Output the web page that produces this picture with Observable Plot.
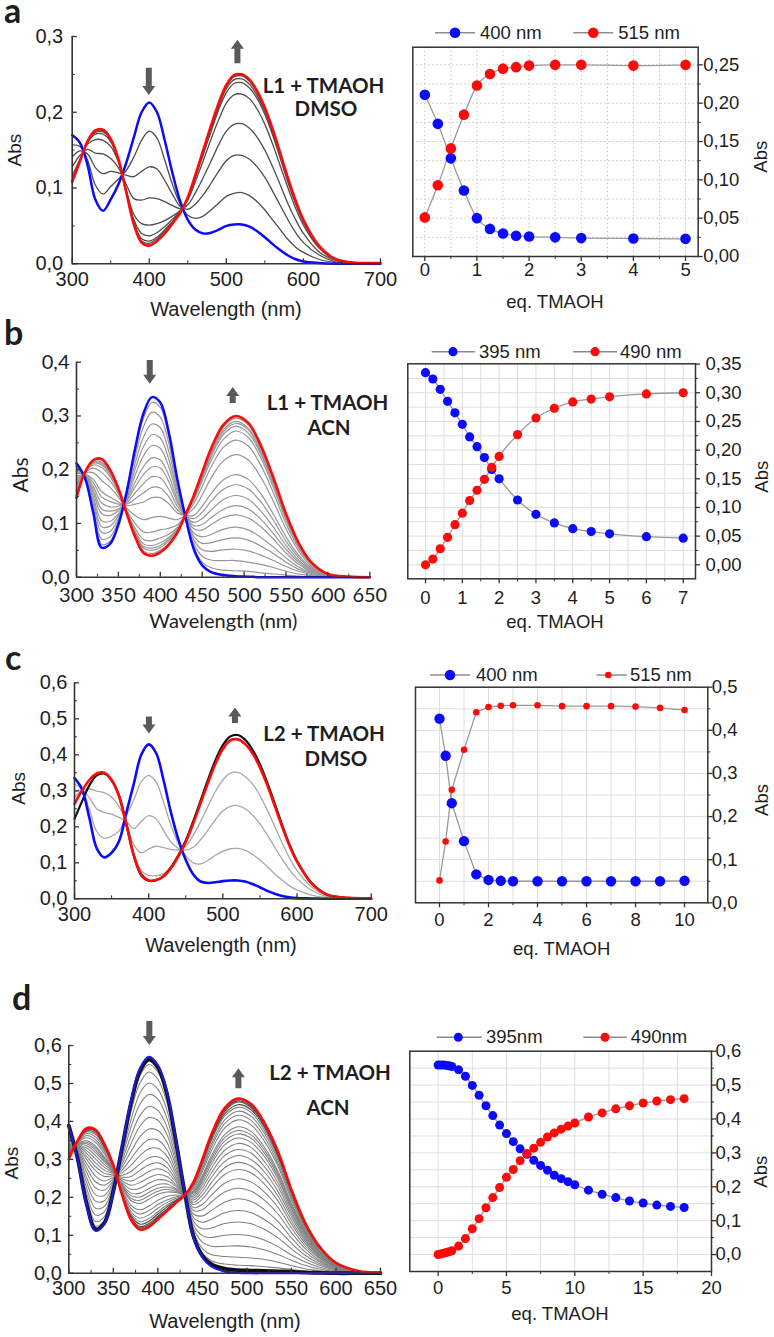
<!DOCTYPE html>
<html><head><meta charset="utf-8">
<script src="https://cdn.jsdelivr.net/npm/d3@7"></script>
<script src="https://cdn.jsdelivr.net/npm/@observablehq/plot@0.6"></script>
<style>
body{margin:0;background:#fff;}
#fig{position:relative;width:774px;height:1337px;overflow:hidden;background:#fff;}
</style></head><body><div id="fig"></div>
<script>
// ---------- wavelength grids ----------
const nmAC = [300,310,320,330,340,350,360,370,380,390,400,410,420,430,440,450,460,470,480,490,500,510,520,530,540,550,560,570,580,590,600,620,640,660,700];
const nmBD = [300,310,320,330,340,350,360,370,380,390,400,410,420,430,440,450,460,475,490,505,520,535,550,565,580,600,625,650];

// ---------- panel a spectra (L1 + TMAOH, DMSO) ----------
const a_blue = [.170,.160,.130,.085,.070,.085,.105,.133,.167,.200,.213,.200,.163,.120,.083,.058,.045,.040,.041,.045,.050,.052,.052,.049,.043,.035,.026,.018,.011,.006,.003,.001,0,0,0];
const a_red  = [.108,.135,.162,.176,.177,.165,.138,.095,.052,.028,.024,.030,.040,.053,.067,.088,.118,.150,.182,.212,.236,.249,.250,.243,.228,.206,.178,.146,.113,.083,.058,.024,.007,.002,.001];
const a_gray = [
 [.157,.155,.137,.104,.092,.102,.112,.123,.141,.163,.175,.166,.137,.105,.079,.064,.060,.063,.071,.080,.089,.093,.094,.090,.082,.071,.058,.045,.032,.022,.015,.006,.002,.001,0],
 [.141,.149,.145,.127,.119,.122,.120,.117,.115,.122,.128,.125,.110,.092,.076,.072,.079,.091,.106,.122,.136,.143,.143,.138,.128,.114,.096,.077,.058,.041,.028,.012,.003,.001,0],
 [.128,.143,.151,.146,.145,.139,.127,.105,.086,.084,.087,.086,.082,.077,.073,.078,.094,.114,.135,.157,.175,.184,.185,.179,.167,.150,.128,.104,.079,.058,.040,.016,.005,.001,0],
 [.116,.138,.158,.164,.163,.155,.134,.098,.065,.053,.051,.053,.057,.063,.070,.084,.109,.136,.164,.190,.212,.223,.224,.218,.204,.184,.158,.129,.100,.073,.051,.021,.006,.002,0],
 [.111,.136,.160,.171,.171,.161,.136,.096,.058,.040,.037,.041,.049,.059,.069,.086,.114,.144,.174,.203,.226,.238,.239,.232,.218,.197,.170,.139,.107,.079,.055,.023,.007,.002,0],
 [.110,.136,.161,.173,.174,.163,.137,.095,.055,.033,.030,.035,.045,.056,.068,.087,.116,.147,.178,.207,.231,.243,.244,.237,.222,.201,.173,.142,.110,.081,.057,.023,.007,.002,.001],
 [.109,.135,.162,.175,.176,.164,.138,.095,.054,.030,.027,.033,.043,.055,.068,.087,.117,.149,.180,.210,.234,.247,.248,.241,.226,.204,.176,.144,.112,.082,.057,.024,.007,.002,.001]
];

// ---------- panel c spectra (L2 + TMAOH, DMSO) ----------
const c_blue  = [.335,.305,.225,.140,.115,.128,.160,.240,.320,.400,.429,.405,.330,.240,.165,.108,.068,.048,.044,.046,.049,.051,.051,.048,.041,.032,.022,.014,.008,.004,.002,.001,0,0,0];
const c_red   = [.264,.300,.330,.348,.350,.330,.285,.205,.120,.068,.051,.052,.062,.085,.118,.158,.209,.266,.322,.375,.416,.440,.443,.430,.404,.365,.315,.258,.200,.147,.103,.042,.012,.004,.001];
const c_black = [.222,.270,.315,.343,.348,.330,.287,.207,.120,.065,.050,.052,.063,.087,.121,.162,.215,.273,.331,.385,.427,.451,.455,.442,.414,.374,.322,.264,.205,.150,.105,.043,.012,.004,.001];
const c_gray = [
 [.319,.304,.249,.187,.168,.174,.188,.232,.275,.325,.343,.325,.269,.205,.154,.119,.100,.097,.107,.121,.132,.139,.140,.135,.123,.108,.089,.069,.052,.036,.025,.010,.003,.001,0],
 [.297,.302,.281,.250,.240,.235,.226,.215,.195,.215,.231,.222,.190,.158,.140,.135,.143,.164,.191,.220,.244,.257,.259,.250,.233,.208,.177,.143,.110,.080,.056,.023,.006,.002,.001],
 [.281,.301,.305,.299,.295,.283,.256,.213,.150,.128,.138,.146,.142,.137,.136,.146,.176,.215,.257,.298,.330,.349,.351,.340,.319,.287,.246,.201,.155,.113,.079,.032,.009,.003,.001],
 [.265,.300,.328,.345,.347,.327,.283,.206,.125,.078,.065,.064,.070,.090,.120,.158,.208,.265,.320,.373,.414,.437,.440,.428,.402,.363,.313,.256,.198,.145,.101,.041,.012,.004,.001]
];

// ---------- panel b spectra (L1 + TMAOH, ACN) ----------
const b_blue = [.212,.185,.120,.055,.062,.098,.160,.240,.305,.335,.325,.270,.185,.112,.052,.022,.010,.004,.002,.001,0,0,0,0,0,0,0,0];
const b_red  = [.148,.195,.218,.220,.200,.165,.118,.075,.045,.040,.046,.060,.082,.116,.152,.195,.237,.283,.300,.287,.245,.185,.118,.064,.028,.006,.001,0];
// one row per wavelength of nmBD, one column per intermediate spectrum
const b_grayByNm = [
 [.210,.206,.201,.197,.193,.188,.184,.180,.175,.171,.163,.158,.154,.152,.151,.150,.149],
 [.185,.186,.187,.187,.188,.189,.189,.190,.191,.191,.193,.194,.194,.194,.195,.195,.195],
 [.123,.129,.137,.143,.150,.157,.163,.169,.176,.182,.194,.203,.209,.212,.213,.215,.217],
 [.061,.071,.083,.094,.105,.118,.127,.138,.149,.159,.180,.195,.204,.209,.212,.214,.218],
 [.067,.075,.085,.095,.104,.115,.123,.131,.141,.149,.167,.179,.187,.191,.194,.195,.198],
 [.100,.104,.109,.114,.118,.124,.127,.132,.136,.140,.149,.155,.159,.161,.162,.163,.164],
 [.159,.156,.153,.150,.147,.144,.142,.139,.136,.133,.128,.124,.122,.121,.120,.119,.119],
 [.234,.224,.212,.201,.190,.177,.168,.157,.146,.136,.115,.100,.091,.086,.083,.081,.077],
 [.296,.280,.261,.243,.226,.206,.191,.174,.157,.140,.107,.084,.070,.062,.057,.054,.049],
 [.325,.307,.285,.265,.245,.222,.205,.187,.167,.148,.111,.084,.068,.059,.054,.050,.044],
 [.316,.298,.278,.259,.240,.218,.203,.185,.166,.148,.113,.088,.073,.064,.059,.055,.050],
 [.263,.250,.235,.220,.206,.190,.178,.164,.150,.137,.110,.091,.080,.074,.070,.067,.063],
 [.181,.175,.168,.161,.154,.146,.140,.133,.126,.120,.107,.097,.092,.089,.087,.085,.084],
 [.112,.112,.113,.113,.113,.114,.114,.114,.114,.115,.115,.115,.116,.116,.116,.116,.116],
 [.055,.062,.069,.076,.082,.090,.096,.102,.109,.115,.128,.137,.143,.146,.147,.149,.151],
 [.028,.039,.051,.063,.075,.088,.098,.109,.121,.132,.153,.169,.179,.184,.187,.189,.192],
 [.018,.032,.048,.064,.079,.097,.110,.124,.140,.154,.183,.203,.215,.222,.226,.229,.234],
 [.013,.031,.051,.070,.089,.111,.126,.144,.163,.181,.216,.241,.256,.265,.270,.274,.279],
 [.012,.031,.052,.073,.093,.116,.133,.152,.172,.191,.228,.255,.272,.281,.286,.290,.296],
 [.011,.028,.049,.069,.088,.110,.127,.145,.164,.182,.218,.244,.260,.268,.274,.277,.283],
 [.008,.024,.041,.058,.074,.094,.108,.123,.140,.155,.186,.208,.222,.229,.233,.237,.241],
 [.006,.018,.031,.044,.056,.071,.081,.093,.106,.117,.141,.157,.167,.173,.176,.179,.182],
 [.004,.011,.020,.028,.036,.045,.052,.059,.067,.075,.090,.100,.107,.110,.112,.114,.116],
 [.002,.006,.011,.015,.019,.024,.028,.032,.037,.041,.049,.054,.058,.060,.061,.062,.063],
 [.001,.003,.005,.007,.009,.011,.012,.014,.016,.018,.021,.024,.025,.026,.027,.027,.028],
 [0,.001,.001,.001,.002,.002,.003,.003,.003,.004,.005,.005,.005,.006,.006,.006,.006],
 [0,0,0,0,0,0,0,.001,.001,.001,.001,.001,.001,.001,.001,.001,.001],
 [0,0,0,0,0,0,0,0,0,0,0,0,0,0,0,0,0]
];

// ---------- panel d spectra (L2 + TMAOH, ACN) ----------
const d_blue = [.390,.300,.180,.112,.130,.215,.335,.455,.540,.570,.548,.480,.355,.215,.095,.042,.018,.005,.001,0,0,0,0,0,0,0,0,0];
const d_red  = [.300,.350,.382,.378,.340,.285,.205,.140,.115,.122,.142,.163,.185,.205,.240,.300,.365,.435,.460,.445,.395,.320,.220,.135,.075,.027,.006,.002];
const d_grayByNm = [
 [.389,.386,.382,.376,.370,.364,.358,.352,.346,.341,.337,.333,.329,.326,.323,.320,.318,.316,.315,.311,.309,.306,.304,.303,.302,.301],
 [.301,.302,.305,.308,.311,.315,.318,.321,.324,.327,.330,.332,.334,.335,.337,.339,.340,.341,.342,.344,.345,.346,.348,.348,.349,.349],
 [.183,.189,.198,.211,.224,.239,.252,.266,.278,.289,.300,.308,.316,.323,.330,.336,.341,.345,.349,.357,.363,.368,.372,.375,.378,.380],
 [.116,.124,.136,.153,.171,.190,.207,.225,.241,.256,.270,.281,.291,.301,.310,.318,.324,.330,.335,.345,.352,.359,.365,.369,.373,.375],
 [.133,.139,.149,.162,.176,.191,.205,.219,.232,.243,.255,.263,.271,.279,.286,.293,.297,.302,.306,.314,.320,.325,.330,.333,.336,.337],
 [.216,.218,.221,.226,.230,.235,.240,.245,.249,.253,.257,.259,.262,.265,.267,.269,.271,.272,.274,.276,.278,.280,.282,.283,.284,.284],
 [.333,.329,.323,.315,.306,.297,.288,.280,.272,.265,.258,.253,.248,.243,.238,.234,.231,.229,.226,.221,.217,.214,.211,.209,.208,.207],
 [.450,.441,.427,.406,.386,.363,.342,.321,.302,.285,.268,.255,.243,.232,.221,.211,.204,.197,.191,.179,.170,.162,.156,.151,.146,.144],
 [.533,.521,.502,.475,.446,.416,.388,.360,.333,.310,.288,.271,.254,.239,.224,.211,.201,.192,.184,.167,.156,.145,.136,.129,.123,.120],
 [.563,.550,.530,.501,.471,.439,.410,.380,.352,.328,.304,.286,.268,.252,.237,.223,.213,.204,.195,.177,.165,.154,.144,.137,.131,.127],
 [.542,.530,.511,.485,.459,.429,.403,.376,.351,.329,.307,.291,.275,.260,.246,.234,.224,.216,.208,.192,.181,.171,.162,.156,.150,.147],
 [.475,.466,.451,.431,.410,.387,.367,.346,.326,.309,.292,.279,.267,.255,.244,.235,.227,.221,.214,.202,.193,.186,.179,.174,.169,.167],
 [.352,.348,.340,.329,.318,.305,.294,.283,.272,.263,.254,.247,.241,.234,.229,.223,.220,.216,.213,.206,.201,.197,.193,.191,.188,.187],
 [.215,.215,.214,.213,.213,.212,.211,.211,.210,.210,.209,.209,.208,.208,.208,.207,.207,.207,.207,.206,.206,.206,.206,.205,.205,.205],
 [.097,.101,.108,.117,.127,.137,.147,.156,.165,.173,.181,.187,.193,.198,.203,.207,.211,.214,.217,.222,.226,.230,.233,.235,.237,.238],
 [.046,.053,.065,.082,.099,.117,.134,.151,.167,.181,.195,.206,.216,.225,.234,.242,.248,.253,.258,.268,.275,.282,.287,.291,.295,.297],
 [.024,.033,.049,.071,.094,.119,.142,.165,.187,.205,.224,.238,.252,.264,.276,.287,.295,.302,.309,.322,.332,.340,.348,.353,.358,.361],
 [.012,.024,.044,.071,.100,.131,.159,.187,.214,.237,.260,.278,.294,.310,.324,.338,.348,.357,.365,.382,.394,.404,.414,.420,.426,.430],
 [.008,.021,.042,.072,.102,.135,.165,.196,.224,.249,.273,.292,.310,.326,.342,.356,.367,.376,.386,.404,.416,.427,.437,.444,.451,.454],
 [.007,.020,.040,.069,.098,.130,.159,.189,.216,.240,.264,.282,.299,.316,.331,.344,.355,.364,.373,.390,.402,.413,.423,.430,.436,.440],
 [.006,.017,.036,.061,.087,.115,.141,.167,.192,.213,.234,.250,.266,.280,.293,.306,.315,.323,.331,.346,.357,.367,.375,.382,.387,.390],
 [.005,.014,.029,.049,.070,.093,.115,.136,.156,.173,.190,.203,.215,.227,.238,.248,.255,.262,.268,.281,.289,.297,.304,.309,.314,.316],
 [.004,.010,.020,.034,.048,.064,.079,.093,.107,.119,.130,.139,.148,.156,.163,.170,.175,.180,.184,.193,.199,.204,.209,.213,.216,.217],
 [.002,.006,.012,.021,.030,.039,.048,.057,.066,.073,.080,.086,.091,.096,.100,.104,.108,.110,.113,.118,.122,.125,.128,.130,.132,.133],
 [.001,.003,.007,.012,.017,.022,.027,.032,.036,.041,.044,.048,.050,.053,.056,.058,.060,.061,.063,.066,.068,.070,.071,.072,.074,.074],
 [0,.001,.002,.004,.006,.008,.010,.011,.013,.015,.016,.017,.018,.019,.020,.021,.022,.022,.023,.024,.024,.025,.026,.026,.026,.027],
 [0,0,.001,.001,.001,.002,.002,.003,.003,.003,.004,.004,.004,.004,.004,.005,.005,.005,.005,.005,.005,.006,.006,.006,.006,.006],
 [0,0,0,0,0,.001,.001,.001,.001,.001,.001,.001,.001,.001,.001,.002,.002,.002,.002,.002,.002,.002,.002,.002,.002,.002]
];

// ---------- titration data ----------
const a_eq  = [0,0.25,0.5,0.75,1,1.25,1.5,1.75,2,2.5,3,4,5];
const a_400 = [.211,.173,.128,.086,.050,.036,.030,.027,.026,.025,.024,.0235,.023];
const a_515 = [.051,.093,.141,.185,.223,.238,.245,.247,.249,.250,.250,.249,.250];

const b_eq  = [0,.2,.4,.6,.8,1,1.2,1.4,1.6,1.8,2,2.5,3,3.5,4,4.5,5,6,7];
const b_395 = [.335,.324,.306,.285,.265,.245,.223,.206,.187,.166,.150,.113,.088,.073,.063,.058,.054,.049,.0465];
const b_490 = [0,.010,.028,.048,.070,.090,.112,.130,.149,.170,.189,.227,.256,.273,.284,.289,.293,.298,.300];

const c_eq  = [0,.25,.5,1,1.5,2,2.5,3,4,5,6,7,8,9,10];
const c_400 = [.427,.341,.231,.143,.066,.053,.051,.050,.050,.050,.050,.050,.050,.050,.051];
const c_515 = [.052,.142,.262,.355,.442,.454,.457,.458,.458,.456,.456,.456,.455,.452,.447];

const d_eq  = [0,.2,.4,.6,.8,1,1.5,2,2.5,3,3.5,4,4.5,5,5.5,6,6.5,7,7.5,8,8.5,9,9.5,10,11,12,13,14,15,16,17,18];
const d_395 = [.559,.559,.559,.558,.557,.555,.545,.526,.499,.470,.439,.410,.382,.357,.333,.312,.296,.278,.263,.249,.234,.224,.215,.206,.190,.178,.168,.158,.152,.146,.142,.139];
const d_490 = [0,.002,.004,.006,.008,.011,.025,.047,.076,.106,.138,.168,.198,.228,.251,.277,.298,.314,.331,.347,.359,.370,.379,.388,.406,.418,.430,.439,.447,.453,.457,.460];

// ---------- tick values ----------
const ticksNm100 = [300,400,500,600,700], minorNm100 = [350,450,550,650];
const ticksNm50 = [300,350,400,450,500,550,600,650], minorNm50 = [325,375,425,475,525,575,625];
const ticksAbs03 = [0,.1,.2,.3], minorAbs03 = [.05,.15,.25];
const ticksAbs04 = [0,.1,.2,.3,.4], minorAbs04 = [.05,.15,.25,.35];
const ticksAbs06 = [0,.1,.2,.3,.4,.5,.6], minorAbs06 = [.05,.15,.25,.35,.45,.55];

const ra_x = [0,1,2,3,4,5], ra_xm = [.5,1.5,2.5,3.5,4.5];
const ra_y = [0,.05,.10,.15,.20,.25], ra_ym = [.025,.075,.125,.175,.225];
const rb_x = [0,1,2,3,4,5,6,7], rb_xm = [.5,1.5,2.5,3.5,4.5,5.5,6.5];
const rb_y = [0,.05,.10,.15,.20,.25,.30,.35], rb_ym = [.025,.075,.125,.175,.225,.275,.325];
const rc_x = [0,2,4,6,8,10], rc_xm = [1,3,5,7,9];
const rc_y = [0,.1,.2,.3,.4,.5], rc_ym = [.05,.15,.25,.35,.45];
const rd_x = [0,5,10,15,20], rd_xm = [2.5,7.5,12.5,17.5];
const rd_y = [0,.1,.2,.3,.4,.5,.6], rd_ym = [.05,.15,.25,.35,.45,.55];

// ---------- drawing ----------
const FONT = '"Liberation Sans", Arial, sans-serif';
const CAL = 'Lato, "Open Sans", sans-serif';
const AX = "#333", TXT = "#1e1e1e", BLUE = "#0a0aff", RED = "#ff0a0a";
const fig = document.getElementById("fig");
const NS = "http://www.w3.org/2000/svg";
const fmt = dec => d => d.toFixed(dec).replace(".", ",");

function curvesToRows(nm, curves) {
  const out = [];
  curves.forEach((c, k) => c.forEach((v, i) => out.push({nm: nm[i], abs: v, k})));
  return out;
}
function byNmToRows(nm, rows) {
  const out = [];
  rows.forEach((r, i) => r.forEach((v, k) => out.push({nm: nm[i], abs: v, k})));
  return out;
}
function place(svg, left, top) {
  svg.style.position = "absolute";
  svg.style.left = left + "px";
  svg.style.top = top + "px";
  svg.style.overflow = "visible";
  fig.appendChild(svg);
}

function spectraPlot(cfg) {
  const [x0, x1, y0, y1] = cfg.box;
  const L = 0, W = 400, T = Math.floor(y0 - 40), H = Math.ceil(y1 + 50 - T);
  const pw = x1 - x0, ph = y1 - y0;
  const marks = cfg.layers.map(l => Plot.line(l.data, {x: "nm", y: "abs", z: "k", stroke: l.stroke, strokeWidth: l.width, curve: "catmull-rom"}));
  marks.push(
    Plot.ruleX([cfg.xDomain[0]], {stroke: AX, strokeWidth: 1.6}),
    Plot.ruleY([cfg.yDomain[0]], {stroke: AX, strokeWidth: 1.6}),
    Plot.tickY(cfg.yTicks, {y: d => d, insetRight: pw - 5, stroke: AX, strokeWidth: 1.3}),
    Plot.tickY(cfg.yMinor, {y: d => d, insetRight: pw - 3, stroke: AX, strokeWidth: 1}),
    Plot.tickX(cfg.xTicks, {x: d => d, insetTop: ph - 5, stroke: AX, strokeWidth: 1.3}),
    Plot.tickX(cfg.xMinor, {x: d => d, insetTop: ph - 3, stroke: AX, strokeWidth: 1}),
    Plot.axisY({ticks: cfg.yTicks, anchor: "left", tickSize: 0, tickPadding: cfg.padY, tickFormat: fmt(1), fontSize: cfg.fs, fontFamily: cfg.fam, color: TXT, label: null}),
    Plot.axisX({ticks: cfg.xTicks, anchor: "bottom", tickSize: 0, tickPadding: cfg.padX, tickFormat: d => String(d), fontSize: cfg.fs, fontFamily: cfg.fam, color: TXT, label: null})
  );
  const svg = Plot.plot({
    width: W, height: H,
    marginLeft: x0 - L, marginRight: L + W - x1, marginTop: y0 - T, marginBottom: T + H - y1,
    x: {domain: cfg.xDomain}, y: {domain: cfg.yDomain},
    style: {background: "none", overflow: "visible"},
    marks
  });
  const sx = svg.scale("x"), sy = svg.scale("y");
  for (const a of cfg.arrows) {
    const cx = sx.apply(a.nm), ya = sy.apply(a.from), yb = sy.apply(a.to);
    const dir = yb > ya ? 1 : -1; // 1 = pointing down
    const hh = 9, hw = 6.5, sw = 3;
    const yh = yb - dir * hh;
    const d = `M${cx - sw},${ya} L${cx + sw},${ya} L${cx + sw},${yh} L${cx + hw},${yh} L${cx},${yb} L${cx - hw},${yh} L${cx - sw},${yh} Z`;
    const p = document.createElementNS(NS, "path");
    p.setAttribute("d", d); p.setAttribute("fill", "#5a5a5a");
    svg.appendChild(p);
  }
  place(svg, L, T);
}

function titrationPlot(cfg) {
  const [x0, x1, y0, y1] = cfg.box;
  const L = 400, W = 374, T = Math.floor(y0 - 20), H = Math.ceil(y1 + 50 - T);
  const pw = x1 - x0, ph = y1 - y0;
  const s1 = cfg.eq.map((e, i) => ({eq: e, abs: cfg.s1[i]}));
  const s2 = cfg.eq.map((e, i) => ({eq: e, abs: cfg.s2[i]}));
  const gridStyle = {stroke: cfg.gridColor, strokeWidth: 1, strokeDasharray: cfg.gridDash};
  const svg = Plot.plot({
    width: W, height: H,
    marginLeft: x0 - L, marginRight: L + W - x1, marginTop: y0 - T, marginBottom: T + H - y1,
    x: {domain: cfg.xDomain}, y: {domain: cfg.yDomain},
    style: {background: "none", overflow: "visible"},
    marks: [
      Plot.ruleY(cfg.gridY, gridStyle),
      Plot.ruleX(cfg.gridX, gridStyle),
      Plot.frame({stroke: AX, strokeWidth: 1.5}),
      Plot.line(s1, {x: "eq", y: "abs", stroke: "#9a9a9a", strokeWidth: 1.3, curve: cfg.curve}),
      Plot.line(s2, {x: "eq", y: "abs", stroke: "#9a9a9a", strokeWidth: 1.3, curve: cfg.curve}),
      Plot.dot(s1, {x: "eq", y: "abs", r: cfg.r1, fill: BLUE}),
      Plot.dot(s2, {x: "eq", y: "abs", r: cfg.r2, fill: RED}),
      Plot.tickY(cfg.yTicks, {y: d => d, insetLeft: pw, insetRight: -5, stroke: AX, strokeWidth: 1.3}),
      Plot.tickY(cfg.yMinor, {y: d => d, insetLeft: pw, insetRight: -3, stroke: AX, strokeWidth: 1}),
      Plot.tickX(cfg.xTicks, {x: d => d, insetTop: ph, insetBottom: -5, stroke: AX, strokeWidth: 1.3}),
      Plot.tickX(cfg.xMinor, {x: d => d, insetTop: ph, insetBottom: -3, stroke: AX, strokeWidth: 1}),
      Plot.axisY({ticks: cfg.yTicks, anchor: "right", tickSize: 0, tickPadding: cfg.padY, tickFormat: fmt(cfg.dec), fontSize: 18.5, fontFamily: FONT, color: TXT, label: null}),
      Plot.axisX({ticks: cfg.xTicks, anchor: "bottom", tickSize: 0, tickPadding: cfg.padX, tickFormat: d => String(d), fontSize: 18.5, fontFamily: FONT, color: TXT, label: null})
    ]
  });
  place(svg, L, T);
}

// ---- panel a ----
spectraPlot({
  box: [71.7, 380, 36, 263.3], xDomain: [300, 700], yDomain: [0, 0.3],
  xTicks: ticksNm100, xMinor: minorNm100, yTicks: ticksAbs03, yMinor: minorAbs03,
  padX: 8, padY: 9, fs: 20, fam: FONT,
  layers: [
    {data: curvesToRows(nmAC, a_gray), stroke: "#4d4d4d", width: 1.3},
    {data: curvesToRows(nmAC, [a_blue]), stroke: BLUE, width: 2.5},
    {data: curvesToRows(nmAC, [a_red]), stroke: RED, width: 2.6}
  ],
  arrows: [{nm: 400, from: .258, to: .222}, {nm: 515, from: .264, to: .295}]
});
titrationPlot({
  box: [412.3, 697.7, 46.7, 256], xDomain: [-0.23, 5.243], yDomain: [0, 0.273],
  eq: a_eq, s1: a_400, s2: a_515, r1: 5.3, r2: 5.3, curve: "monotone-x",
  xTicks: ra_x, xMinor: ra_xm, yTicks: ra_y, yMinor: ra_ym, dec: 2,
  gridX: [0,.5,1,1.5,2,2.5,3,3.5,4,4.5,5], gridY: [.025,.05,.075,.1,.125,.15,.175,.2,.225,.25],
  gridColor: "#c4c4c4", gridDash: "1.5,2.5", padX: 6, padY: 5
});

// ---- panel b ----
spectraPlot({
  box: [76, 369.3, 361.7, 576.7], xDomain: [300, 650], yDomain: [0, 0.4],
  xTicks: ticksNm50, xMinor: minorNm50, yTicks: ticksAbs04, yMinor: minorAbs04,
  padX: 11, padY: 7, fs: 20, fam: CAL,
  layers: [
    {data: byNmToRows(nmBD, b_grayByNm), stroke: "#969696", width: 1.2},
    {data: curvesToRows(nmBD, [b_blue]), stroke: BLUE, width: 2.5},
    {data: curvesToRows(nmBD, [b_red]), stroke: RED, width: 2.6}
  ],
  arrows: [{nm: 388, from: .403, to: .359}, {nm: 487, from: .323, to: .353}]
});
titrationPlot({
  box: [407.3, 695, 363.3, 578.3], xDomain: [-0.481, 7.334], yDomain: [-0.0244, 0.3505],
  eq: b_eq, s1: b_395, s2: b_490, r1: 4.6, r2: 4.6, curve: "monotone-x",
  xTicks: rb_x, xMinor: rb_xm, yTicks: rb_y, yMinor: rb_ym, dec: 2,
  gridX: [0,.5,1,1.5,2,2.5,3,3.5,4,4.5,5,5.5,6,6.5,7], gridY: [0,.025,.05,.075,.1,.125,.15,.175,.2,.225,.25,.275,.3,.325],
  gridColor: "#dedede", gridDash: null, padX: 12, padY: 10
});

// ---- panel c ----
spectraPlot({
  box: [74, 370.7, 682.3, 898.3], xDomain: [300, 700], yDomain: [0, 0.6],
  xTicks: ticksNm100, xMinor: minorNm100, yTicks: ticksAbs06, yMinor: minorAbs06,
  padX: 8, padY: 7, fs: 20, fam: FONT,
  layers: [
    {data: curvesToRows(nmAC, c_gray), stroke: "#a8a8a8", width: 1.3},
    {data: curvesToRows(nmAC, [c_black]), stroke: "#111", width: 2.2},
    {data: curvesToRows(nmAC, [c_blue]), stroke: BLUE, width: 2.6},
    {data: curvesToRows(nmAC, [c_red]), stroke: RED, width: 2.6}
  ],
  arrows: [{nm: 401, from: .505, to: .458}, {nm: 517, from: .487, to: .53}]
});
titrationPlot({
  box: [415, 707.3, 686.7, 902.3], xDomain: [-0.98, 10.95], yDomain: [0, 0.5],
  eq: c_eq, s1: c_400, s2: c_515, r1: 5.2, r2: 3.3, curve: "linear",
  xTicks: rc_x, xMinor: rc_xm, yTicks: rc_y, yMinor: rc_ym, dec: 1,
  gridX: [0,1,2,3,4,5,6,7,8,9,10], gridY: [.05,.1,.15,.2,.25,.3,.35,.4,.45],
  gridColor: "#dedede", gridDash: null, padX: 10, padY: 4
});

// ---- panel d ----
const d_rows = byNmToRows(nmBD, d_grayByNm);
spectraPlot({
  box: [68.3, 380, 1045, 1272.7], xDomain: [300, 650], yDomain: [0, 0.6],
  xTicks: ticksNm50, xMinor: minorNm50, yTicks: ticksAbs06, yMinor: minorAbs06,
  padX: 8, padY: 7, fs: 20, fam: FONT,
  layers: [
    {data: d_rows.filter(r => r.k > 0 && r.k < 23), stroke: "#808080", width: 1.05},
    {data: d_rows.filter(r => r.k >= 23), stroke: "#4a4a4a", width: 1.1},
    {data: d_rows.filter(r => r.k === 0), stroke: "#111", width: 3.8},
    {data: curvesToRows(nmBD, [d_blue]), stroke: "#1a1ad6", width: 2.3},
    {data: curvesToRows(nmBD, [d_red]), stroke: RED, width: 2.6}
  ],
  arrows: [{nm: 391, from: .663, to: .600}, {nm: 491, from: .486, to: .539}]
});
titrationPlot({
  box: [409.3, 711, 1050.7, 1271], xDomain: [-2.07, 20], yDomain: [-0.05, 0.6],
  eq: d_eq, s1: d_395, s2: d_490, r1: 4.5, r2: 4.5, curve: "monotone-x",
  xTicks: rd_x, xMinor: rd_xm, yTicks: rd_y, yMinor: rd_ym, dec: 1,
  gridX: [0,2.5,5,7.5,10,12.5,15,17.5], gridY: [0,.05,.1,.15,.2,.25,.3,.35,.4,.45,.5,.55],
  gridColor: "#dedede", gridDash: null, padX: 9, padY: 4
});

// ---------- texts (titles, annotations, legends) ----------
const labels = [
  {t: "a", x: 4, y: 23, s: 34, w: 700, f: CAL, a: "start"},
  {t: "b", x: 4, y: 345, s: 34, w: 700, f: CAL, a: "start"},
  {t: "c", x: 5, y: 670, s: 34, w: 700, f: CAL, a: "start"},
  {t: "d", x: 12, y: 1010, s: 34, w: 700, f: CAL, a: "start"},
  {t: "Wavelength (nm)", x: 226, y: 316, s: 20, f: FONT},
  {t: "Abs", x: 20.7, y: 150, s: 19, f: FONT, r: true},
  {t: "Wavelength (nm)", x: 223.3, y: 628, s: 20, f: CAL},
  {t: "Abs", x: 28, y: 475, s: 21, f: CAL, r: true},
  {t: "Wavelength (nm)", x: 221, y: 951.7, s: 20, f: FONT},
  {t: "Abs", x: 25, y: 788.3, s: 19, f: FONT, r: true},
  {t: "Wavelength (nm)", x: 225, y: 1328, s: 20, f: FONT},
  {t: "Abs", x: 18.3, y: 1163, s: 19, f: FONT, r: true},
  {t: "eq. TMAOH", x: 555, y: 308.3, s: 18.5, f: FONT},
  {t: "Abs", x: 767, y: 156.7, s: 18.5, f: FONT, r: true},
  {t: "eq. TMAOH", x: 555, y: 628.3, s: 18.5, f: FONT},
  {t: "Abs", x: 768, y: 476.7, s: 18.5, f: FONT, r: true},
  {t: "eq. TMAOH", x: 561.7, y: 955, s: 18.5, f: FONT},
  {t: "Abs", x: 768, y: 800, s: 18.5, f: FONT, r: true},
  {t: "eq. TMAOH", x: 560, y: 1320, s: 18.5, f: FONT},
  {t: "Abs", x: 767, y: 1171.7, s: 18.5, f: FONT, r: true}
];
// two-line bold annotations (sample + solvent)
const notes = [
  {l1: "L1 + TMAOH", x1: 323.5, y1: 92.8, l2: "DMSO", x2: 326, y2: 116},
  {l1: "L1 + TMAOH", x1: 327.5, y1: 409.5, l2: "ACN", x2: 329, y2: 435},
  {l1: "L2 + TMAOH", x1: 324, y1: 741.2, l2: "DMSO", x2: 336, y2: 765.5},
  {l1: "L2 + TMAOH", x1: 330, y1: 1079.5, l2: "ACN", x2: 328, y2: 1115}
];
const legends = [
  {y: 32.7, ty: 39.3, items: [{x1: 435, x2: 475, cx: 455, r: 5.3, c: BLUE, t: "400 nm", tx: 480}, {x1: 573.3, x2: 613.3, cx: 593.3, r: 5.3, c: RED, t: "515 nm", tx: 618.3}]},
  {y: 351.7, ty: 358.3, items: [{x1: 431.7, x2: 475, cx: 453, r: 4.6, c: BLUE, t: "395 nm", tx: 479}, {x1: 573, x2: 617, cx: 595, r: 4.6, c: RED, t: "490 nm", tx: 620}]},
  {y: 675, ty: 681, items: [{x1: 430, x2: 470, cx: 450, r: 5.2, c: BLUE, t: "400 nm", tx: 476}, {x1: 596.7, x2: 626.7, cx: 608.3, r: 3.3, c: RED, t: "515 nm", tx: 630}]},
  {y: 1037.3, ty: 1043.3, items: [{x1: 436.7, x2: 481.7, cx: 458.3, r: 4.5, c: BLUE, t: "395nm", tx: 486}, {x1: 583.3, x2: 626.7, cx: 605, r: 4.5, c: RED, t: "490nm", tx: 630.7}]}
];

const ov = d3.select(fig).append("svg")
  .attr("width", 774).attr("height", 1337)
  .style("position", "absolute").style("left", "0px").style("top", "0px").style("pointer-events", "none");
for (const t of labels) {
  const el = ov.append("text").text(t.t)
    .attr("font-family", t.f).attr("font-size", t.s).attr("font-weight", t.w || 400)
    .attr("fill", TXT).attr("text-anchor", t.a || "middle");
  if (t.r) el.attr("transform", `translate(${t.x},${t.y}) rotate(-90)`);
  else el.attr("x", t.x).attr("y", t.y);
}
for (const n of notes) {
  const el = ov.append("text").attr("font-family", CAL).attr("font-size", 20.5).attr("font-weight", 700)
    .attr("fill", TXT).attr("text-anchor", "middle");
  el.append("tspan").attr("x", n.x1).attr("y", n.y1).text(n.l1);
  el.append("tspan").attr("x", n.x2).attr("y", n.y2).text(n.l2);
}
for (const lg of legends) {
  for (const it of lg.items) {
    ov.append("line").attr("x1", it.x1).attr("x2", it.x2).attr("y1", lg.y).attr("y2", lg.y).attr("stroke", "#8c8c8c").attr("stroke-width", 1.5);
    ov.append("circle").attr("cx", it.cx).attr("cy", lg.y).attr("r", it.r).attr("fill", it.c);
    ov.append("text").text(it.t).attr("x", it.tx).attr("y", lg.ty).attr("font-family", FONT).attr("font-size", 18.5).attr("fill", TXT);
  }
}
</script></body></html>
